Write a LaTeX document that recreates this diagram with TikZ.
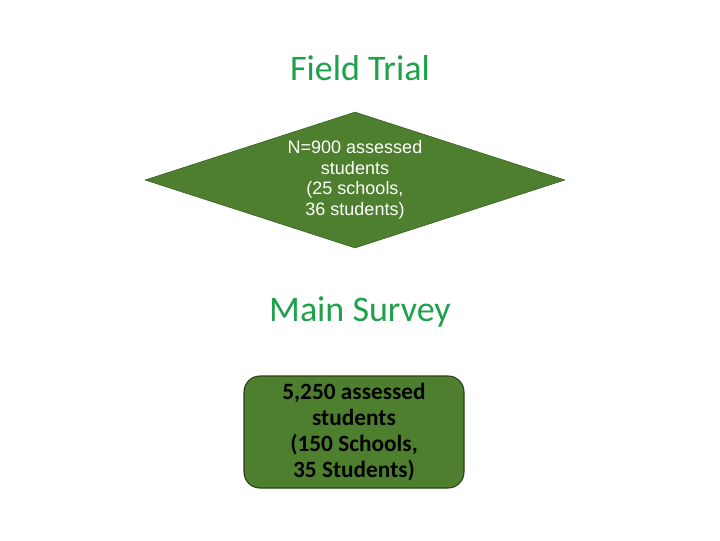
\documentclass[tikz,border=0pt]{standalone}
\usepackage{fontspec}
\setmainfont{Carlito}
\newfontfamily\arialf{Liberation Sans}
\usetikzlibrary{shapes.geometric}
\definecolor{tgreen}{HTML}{1FA04B}
\definecolor{bgreen}{HTML}{4E7F2E}
\tikzset{
 title/.style={text=tgreen,font=\fontsize{27}{30}\selectfont},
 dia/.style={draw=bgreen!70!black,fill=bgreen,diamond,minimum width=315pt,minimum height=102pt,inner sep=0pt},
 rbox/.style={draw=bgreen!50!black,fill=bgreen,rounded corners=12pt,minimum width=165pt,minimum height=84pt,line width=0.8pt}
}
\begin{document}
\begin{tikzpicture}[x=0.75pt,y=-0.75pt]
\useasboundingbox (0,0) rectangle (720,540);
\node[title] (ft) at (360,68) {Field Trial};
\node[dia] (d) at (355,180) {};
\node[text=white,font=\arialf\fontsize{13.5}{15.5}\selectfont,align=center] (dt) at (355,180) {N=900 assessed\\students\\(25 schools,\\36 students)};
\node[title] (ms) at (360,312) {Main Survey};
\node[rbox] (r) at (354,432) {};
\node[font=\bfseries\fontsize{17.5}{19.5}\selectfont,align=center] (rt) at (354,432) {5,250 assessed\\students\\(150 Schools,\\35 Students)};
\end{tikzpicture}
\end{document}
